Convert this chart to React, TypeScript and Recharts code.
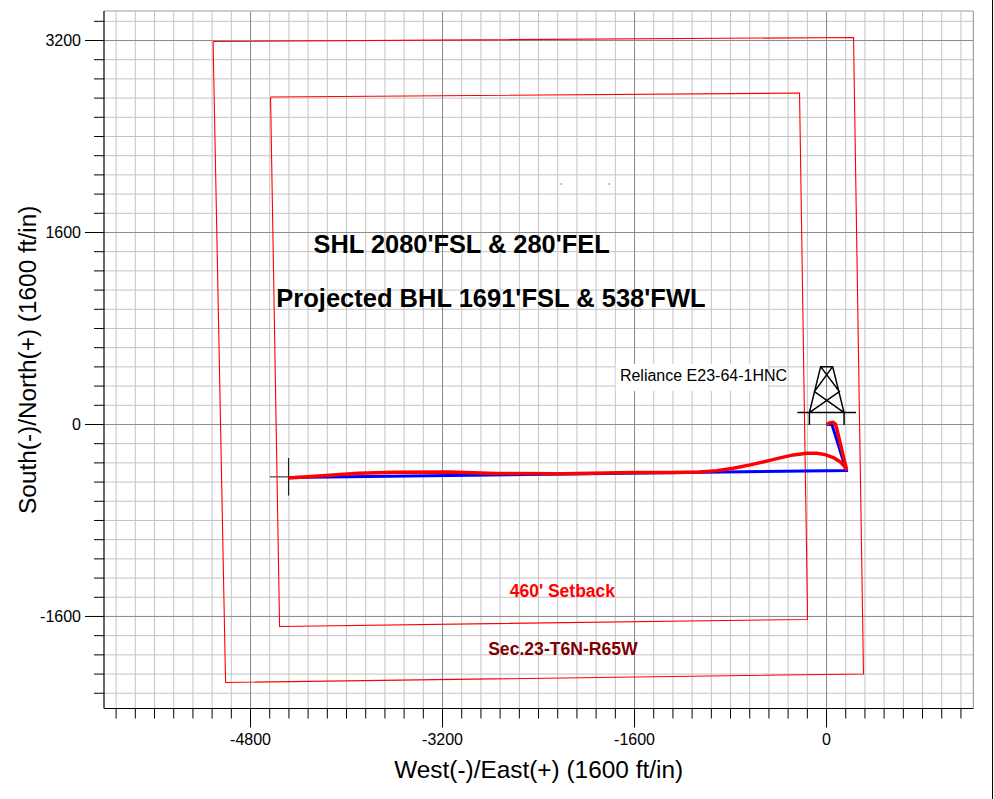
import React from 'react';
import { ComposedChart, Line, XAxis, YAxis, CartesianGrid, ReferenceLine, ReferenceArea, ReferenceDot, Scatter } from 'recharts';

const FONT = '"Liberation Sans", Arial, sans-serif';

const xDomain = [-6021, 1223];
const yDomain = [3446, -2367];

const xMajor = [-4800, -3200, -1600, 0];
const yMajor = [3200, 1600, 0, -1600];
const gridStep = 160;
const xAll = Array.from({ length: 45 }, (_, i) => -5920 + i * gridStep);
const yAll = Array.from({ length: 36 }, (_, i) => 3360 - i * gridStep);

const xTitle = 'West(-)/East(+) (1600 ft/in)';
const yTitle = 'South(-)/North(+) (1600 ft/in)';

const sectionLine = [
  { x: -5112, y: 3192 }, { x: 225, y: 3225 }, { x: 308, y: -2079 }, { x: -5008, y: -2150 }, { x: -5112, y: 3192 },
];
const setbackLine = [
  { x: -4633, y: 2729 }, { x: -225, y: 2762 }, { x: -158, y: -1625 }, { x: -4558, y: -1683 }, { x: -4633, y: 2729 },
];
const planPath = [
  { x: 0, y: 0 }, { x: 45, y: 0 }, { x: 165, y: -383 }, { x: -2000, y: -410 }, { x: -4483, y: -442 },
];
const actualPath = [
  { x: 0, y: 0 }, { x: 25, y: 14 }, { x: 55, y: 18 }, { x: 74, y: 4 }, { x: 85, y: -32 }, { x: 124, y: -198 },
  { x: 168, y: -379 }, { x: 145, y: -345 }, { x: 112, y: -310 }, { x: 57, y: -276 }, { x: -12, y: -251 },
  { x: -82, y: -240 }, { x: -165, y: -240 }, { x: -276, y: -254 }, { x: -388, y: -279 }, { x: -498, y: -305 },
  { x: -637, y: -337 }, { x: -777, y: -365 }, { x: -915, y: -385 }, { x: -1054, y: -396 }, { x: -1300, y: -400 },
  { x: -1600, y: -400 }, { x: -2200, y: -410 }, { x: -2750, y: -408 }, { x: -3150, y: -396 }, { x: -3600, y: -398 },
  { x: -3900, y: -406 }, { x: -4200, y: -427 }, { x: -4483, y: -446 },
];
const targetVertical = [{ x: -4483, y: -279 }, { x: -4483, y: -593 }];
const targetHorizontal = [{ x: -4638, y: -436 }, { x: -4483, y: -436 }];
const derrick = [
  { x: -243, y: 99 }, { x: 246, y: 99 }, { x: 246, y: null },
  { x: -143, y: -4 }, { x: -143, y: 99 }, { x: -49, y: 482 }, { x: 51, y: 482 }, { x: 146, y: 99 }, { x: 146, y: -4 }, { x: 146, y: null },
  { x: -49, y: 482 }, { x: 107, y: 274 }, { x: -143, y: 99 }, { x: -143, y: null },
  { x: 51, y: 482 }, { x: -101, y: 274 }, { x: 146, y: 99 },
];
const specks = [{ x: -2212, y: 2004 }, { x: -1812, y: 2004 }];

const textLabels = [
  { x: -4275, y: 1428, text: "SHL 2080'FSL & 280'FEL", size: 25.4, weight: 700, color: '#000' },
  { x: -4585, y: 982, text: "Projected BHL 1691'FSL & 538'FWL", size: 25.5, weight: 700, color: '#000' },
  { x: -1722, y: 362, text: 'Reliance E23-64-1HNC', size: 16, weight: 400, color: '#000' },
  { x: -2640, y: -1435, text: "460' Setback", size: 17.5, weight: 700, color: '#ff0000' },
  { x: -2820, y: -1925, text: 'Sec.23-T6N-R65W', size: 17.6, weight: 700, color: '#800000' },
];

const XTick = (p: any) => {
  const major = xMajor.includes(p.payload.value);
  const y0 = p.y;
  return (
    <g>
      <line x1={p.x} x2={p.x} y1={y0} y2={y0 + (major ? 19 : 10)} stroke="#000" strokeWidth={1} />
      {major && (
        <text x={p.x} y={y0 + 36} textAnchor="middle" fontFamily={FONT} fontSize={16} fill="#000">{p.payload.value}</text>
      )}
    </g>
  );
};
const YTick = (p: any) => {
  const major = yMajor.includes(p.payload.value);
  const x0 = p.x;
  return (
    <g>
      <line x1={x0} x2={x0 - (major ? 19 : 10)} y1={p.y} y2={p.y} stroke="#000" strokeWidth={1} />
      {major && (
        <text x={x0 - 23} y={p.y + 5.5} textAnchor="end" fontFamily={FONT} fontSize={16} fill="#000">{p.payload.value}</text>
      )}
    </g>
  );
};

const series = (data: any[], color: string, width: number, name: string) => (
  <Line key={name} data={data} dataKey="y" name={name} type="linear" stroke={color} strokeWidth={width} dot={false} activeDot={false} isAnimationActive={false} connectNulls={false} legendType="none" />
);

export default function App() {
  return (
    <div style={{ position: 'absolute', left: 0, top: 0, width: 994, height: 799, background: '#fff', overflow: 'hidden' }}>
      <div style={{ position: 'absolute', left: 991.5, top: 0, width: 1.5, height: 799, background: '#000' }} />
      <ComposedChart width={994} height={799} margin={{ top: 11, right: 20.7, bottom: 0, left: 0 }} data={[]}>
        <CartesianGrid stroke="#c4c4c4" strokeWidth={1} verticalValues={xAll} horizontalValues={yAll} syncWithTicks={false} />
        <ReferenceArea x1={-1757} x2={-487} y1={505} y2={280} fill="#fff" fillOpacity={1} stroke="none" />
        <CartesianGrid stroke="#8c8c8c" strokeWidth={1} verticalValues={xMajor} horizontalValues={yMajor} syncWithTicks={false} />
        <ReferenceLine x={xDomain[1]} stroke="#8c8c8c" />
        <ReferenceLine y={yDomain[0]} stroke="#bdbdbd" strokeWidth={1.5} />
        <XAxis
          type="number" dataKey="x" xAxisId={0} domain={xDomain} allowDataOverflow ticks={xAll} interval={0}
          height={90.5} tick={<XTick />} tickLine={false} tickSize={0} tickMargin={0}
          axisLine={{ stroke: '#000', strokeWidth: 1.2 }}
          label={{ value: xTitle, position: 'insideBottom', offset: 21, style: { fontFamily: FONT, fontSize: 24.4, fill: '#000' } }}
        />
        <YAxis
          type="number" dataKey="y" yAxisId={0} domain={[yDomain[1], yDomain[0]]} allowDataOverflow ticks={yAll} interval={0}
          width={104} tick={<YTick />} tickLine={false} tickSize={0} tickMargin={0}
          axisLine={{ stroke: '#000', strokeWidth: 1.2 }}
          label={{ value: yTitle, angle: -90, position: 'left', offset: -27, style: { fontFamily: FONT, fontSize: 24.4, fill: '#000', textAnchor: 'middle' } }}
        />
        {series(sectionLine, '#ff0000', 1.1, 'Section')}
        {series(setbackLine, '#ff0000', 1.1, 'Setback')}
        {series(derrick, '#000000', 1.5, 'Derrick')}
        {series(targetHorizontal, '#666666', 1.5, 'TargetH')}
        {series(targetVertical, '#222222', 1.2, 'TargetV')}
        {series(planPath, '#0000ff', 3, 'Plan')}
        {series(actualPath, '#ff0000', 3.4, 'Actual')}
        <Scatter data={specks} dataKey="y" fill="#555" isAnimationActive={false} shape={(p: any) => <circle cx={p.cx} cy={p.cy} r={0.7} fill="#555" />} />
        {textLabels.map((t) => (
          <ReferenceDot key={t.text} x={t.x} y={t.y} r={0} ifOverflow="visible" shape={(p: any) => (
            <text x={p.cx} y={p.cy} fontFamily={FONT} fontSize={t.size} fontWeight={t.weight} fill={t.color}>{t.text}</text>
          )} />
        ))}
      </ComposedChart>
    </div>
  );
}
